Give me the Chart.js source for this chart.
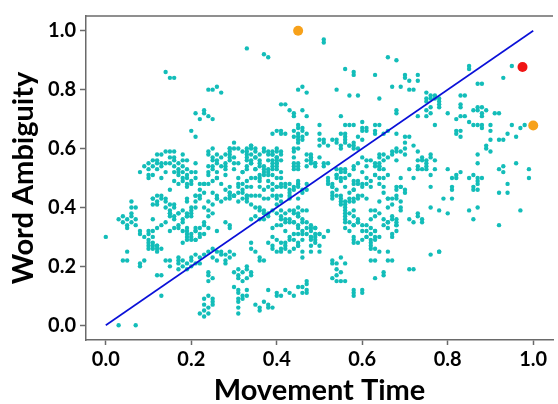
<!DOCTYPE html>
<html>
<head>
<meta charset="utf-8">
<script src="https://cdn.jsdelivr.net/npm/chart.js@4.4.0/dist/chart.umd.min.js"></script>
<style>
  html, body { margin: 0; padding: 0; background: #ffffff; }
  #wrap { width: 558px; height: 404px; }
</style>
</head>
<body>
<div id="wrap"><canvas id="scatter" width="558" height="404"></canvas></div>
<script>
/* ---------- axis labels / ticks ---------- */
const xTitle = "Movement Time";
const yTitle = "Word Ambiguity";
const xTicks = [0.0, 0.2, 0.4, 0.6, 0.8, 1.0];
const yTicks = [0.0, 0.2, 0.4, 0.6, 0.8, 1.0];

/* ---------- reference line (x = y) ---------- */
const fitLine = [[0, 0], [1, 1]];

/* ---------- highlighted points ---------- */
const redPoints = [[0.975, 0.877]];
const orangePoints = [[0.45, 1.0], [1.0, 0.678]];

/* ---------- movement time / word ambiguity pairs ---------- */
const tealPoints = [
  // far left
  [0.00,0.30],[0.03,0.00],[0.07,0.00],[0.13,0.10],[0.06,0.42],[0.06,0.40],
  [0.03,0.36],[0.04,0.37],[0.04,0.35],[0.05,0.36],[0.05,0.34],[0.06,0.37],[0.06,0.35],[0.07,0.36],[0.07,0.34],[0.05,0.33],
  [0.05,0.25],[0.04,0.22],[0.05,0.22],[0.08,0.20],[0.08,0.21],[0.09,0.22],
  [0.10,0.27],[0.11,0.27],[0.11,0.26],[0.12,0.27],[0.11,0.36],[0.11,0.43],[0.12,0.41],[0.12,0.17],[0.13,0.17],
  [0.08,0.32],[0.08,0.31],[0.09,0.30],[0.10,0.31],[0.11,0.32],[0.06,0.38],[0.07,0.40],
  [0.10,0.29],[0.11,0.28],[0.12,0.26],[0.13,0.26],[0.12,0.25],[0.10,0.26],
  [0.11,0.41],[0.12,0.44],[0.13,0.43],[0.14,0.42],[0.14,0.40],[0.15,0.39],[0.15,0.38],[0.16,0.36],[0.14,0.35],[0.13,0.34],
  [0.12,0.33],[0.10,0.32],[0.11,0.30],[0.10,0.28],[0.12,0.27],
  // upper left cluster
  [0.11,0.56],[0.12,0.58],[0.12,0.56],[0.11,0.54],[0.10,0.53],[0.11,0.51],[0.12,0.53],[0.13,0.54],[0.13,0.55],[0.14,0.52],
  [0.13,0.50],[0.15,0.59],[0.16,0.57],[0.16,0.56],[0.16,0.54],[0.17,0.53],[0.17,0.51],[0.16,0.49],[0.18,0.58],[0.19,0.56],
  [0.18,0.54],[0.19,0.51],[0.20,0.52],[0.21,0.50],[0.18,0.49],[0.24,0.59],[0.24,0.58],[0.25,0.56],[0.24,0.54],[0.25,0.54],
  [0.26,0.55],[0.27,0.54],[0.26,0.52],[0.26,0.50],[0.28,0.53],[0.28,0.51],[0.28,0.58],[0.29,0.56],[0.29,0.57],[0.30,0.55],
  [0.30,0.53],[0.31,0.55],[0.32,0.52],[0.33,0.58],[0.33,0.54],
  [0.09,0.54],[0.10,0.55],[0.10,0.50],[0.08,0.52],[0.14,0.59],[0.15,0.57],[0.15,0.55],[0.16,0.52],[0.17,0.55],[0.19,0.50],[0.20,0.49],[0.21,0.55],
  [0.12,0.55],[0.13,0.58],[0.14,0.55],[0.16,0.59],[0.18,0.56],[0.17,0.52],[0.18,0.52],[0.18,0.50],[0.19,0.48],[0.20,0.48],[0.21,0.52],[0.19,0.53],[0.10,0.51],
  [0.25,0.60],[0.25,0.57],[0.26,0.56],[0.26,0.58],[0.27,0.57],[0.28,0.55],[0.28,0.54],[0.29,0.58],[0.29,0.60],[0.29,0.59],
  [0.30,0.57],[0.31,0.60],[0.24,0.52],[0.24,0.51],[0.25,0.49],[0.25,0.53],[0.23,0.48],[0.26,0.50],
  [0.32,0.59],[0.33,0.56],[0.34,0.55],[0.35,0.53],[0.35,0.57],[0.36,0.58],[0.34,0.61],[0.35,0.60],[0.36,0.56],[0.37,0.54],
  [0.36,0.51],[0.35,0.50],[0.34,0.50],[0.33,0.49],[0.32,0.48],[0.31,0.47],[0.32,0.45],[0.33,0.44],[0.33,0.43],[0.30,0.44],
  [0.31,0.48],[0.31,0.50],[0.32,0.52],
  // upper left sparse
  [0.33,0.94],[0.14,0.86],[0.15,0.84],[0.16,0.84],[0.24,0.80],[0.25,0.80],[0.26,0.81],[0.27,0.79],[0.21,0.72],[0.22,0.70],
  [0.23,0.73],[0.23,0.72],[0.24,0.71],[0.25,0.70],[0.20,0.66],[0.21,0.64],[0.30,0.62],[0.29,0.60],[0.30,0.60],[0.33,0.59],
  // middle left
  [0.15,0.46],[0.17,0.48],[0.19,0.47],[0.22,0.48],[0.23,0.48],[0.24,0.48],[0.22,0.46],[0.21,0.44],[0.22,0.44],[0.23,0.45],
  [0.25,0.45],[0.27,0.48],[0.28,0.46],[0.29,0.47],[0.29,0.45],[0.30,0.44],[0.31,0.45],[0.32,0.46],[0.33,0.47],[0.33,0.44],
  [0.34,0.44],[0.26,0.43],[0.27,0.42],[0.29,0.43],
  [0.11,0.43],[0.12,0.42],[0.13,0.44],[0.14,0.43],[0.15,0.41],[0.16,0.41],[0.16,0.40],[0.15,0.38],[0.15,0.37],[0.16,0.37],
  [0.17,0.38],[0.18,0.36],[0.19,0.37],[0.19,0.38],[0.20,0.39],[0.20,0.38],[0.20,0.37],[0.21,0.40],
  [0.17,0.33],[0.18,0.32],[0.19,0.32],[0.20,0.31],[0.20,0.30],[0.21,0.33],[0.21,0.32],[0.22,0.31],[0.19,0.30],[0.20,0.29],
  [0.21,0.29],[0.22,0.30],[0.23,0.31],[0.19,0.29],[0.18,0.28],
  [0.15,0.32],[0.16,0.33],[0.17,0.34],[0.18,0.35],[0.19,0.37],[0.20,0.40],[0.21,0.42],[0.21,0.44],[0.22,0.43],[0.19,0.43],
  [0.19,0.42],[0.18,0.39],[0.17,0.38],[0.19,0.33],[0.19,0.31],[0.21,0.29],[0.21,0.32],[0.22,0.33],[0.23,0.34],[0.23,0.35],
  [0.24,0.37],[0.25,0.38],[0.24,0.39],[0.25,0.41],[0.26,0.43],[0.26,0.44],[0.28,0.43],[0.29,0.44],[0.29,0.45],[0.30,0.44],
  [0.31,0.42],[0.32,0.43],[0.23,0.40],[0.24,0.42],[0.28,0.35],[0.29,0.34],[0.29,0.33],[0.24,0.33],[0.26,0.32],
  // lower left
  [0.14,0.22],[0.15,0.22],[0.15,0.20],
  [0.17,0.22],[0.17,0.23],[0.18,0.22],[0.19,0.21],[0.20,0.22],[0.20,0.23],[0.21,0.24],[0.22,0.23],[0.17,0.21],[0.18,0.20],
  [0.19,0.19],[0.20,0.20],[0.21,0.21],[0.17,0.19],[0.22,0.21],
  [0.23,0.24],[0.24,0.25],[0.25,0.26],[0.26,0.25],[0.27,0.24],[0.27,0.25],[0.28,0.24],[0.29,0.23],[0.25,0.23],[0.26,0.22],
  [0.28,0.22],[0.28,0.21],[0.29,0.25],[0.30,0.24],
  [0.24,0.18],[0.24,0.17],[0.25,0.16],[0.24,0.15],
  [0.30,0.18],[0.31,0.19],[0.31,0.17],[0.32,0.18],[0.33,0.20],[0.31,0.16],[0.32,0.15],[0.33,0.16],
  [0.30,0.13],[0.31,0.11],[0.31,0.12],[0.32,0.10],[0.33,0.10],[0.31,0.09],[0.31,0.08],[0.32,0.09],[0.31,0.06],
  [0.23,0.09],[0.24,0.10],[0.25,0.09],[0.23,0.07],[0.24,0.06],[0.25,0.07],[0.22,0.04],[0.23,0.03],[0.24,0.04],[0.31,0.04],
  [0.23,0.05],[0.25,0.08],
  // middle
  [0.34,0.47],[0.36,0.47],[0.37,0.46],[0.38,0.47],[0.39,0.46],[0.40,0.47],[0.41,0.48],[0.42,0.47],[0.43,0.48],[0.44,0.46],
  [0.45,0.47],[0.43,0.45],[0.41,0.44],[0.40,0.44],[0.38,0.43],[0.37,0.43],[0.36,0.44],[0.35,0.44],
  [0.45,0.48],[0.46,0.46],[0.47,0.48],[0.47,0.46],
  [0.33,0.42],[0.34,0.41],[0.35,0.40],[0.36,0.40],[0.37,0.39],[0.36,0.39],[0.37,0.38],[0.38,0.38],[0.39,0.39],[0.35,0.37],
  [0.34,0.36],[0.36,0.36],[0.37,0.36],[0.38,0.37],
  [0.41,0.39],[0.42,0.38],[0.43,0.39],[0.44,0.38],[0.44,0.39],[0.45,0.40],[0.46,0.39],[0.45,0.37],[0.43,0.36],[0.42,0.35],
  [0.41,0.36],[0.44,0.35],[0.45,0.34],
  [0.46,0.35],[0.47,0.33],[0.48,0.32],[0.48,0.33],[0.49,0.31],[0.48,0.30],[0.49,0.30],[0.49,0.28],[0.48,0.29],[0.47,0.31],
  [0.49,0.33],[0.50,0.31],[0.47,0.39],
  [0.34,0.28],[0.34,0.26],[0.35,0.25],[0.36,0.23],[0.36,0.22],[0.37,0.22],
  [0.38,0.28],[0.39,0.27],[0.39,0.26],[0.40,0.25],[0.41,0.26],[0.41,0.25],[0.42,0.26],[0.42,0.28],[0.43,0.29],[0.44,0.31],
  [0.44,0.29],[0.45,0.28],[0.45,0.27],[0.44,0.26],[0.45,0.31],[0.46,0.31],
  [0.46,0.23],[0.46,0.25],[0.48,0.25],[0.50,0.25],
  [0.33,0.19],[0.34,0.18],[0.34,0.17],[0.33,0.12],
  [0.38,0.12],[0.40,0.11],[0.40,0.10],[0.41,0.10],[0.42,0.12],[0.43,0.11],[0.44,0.10],[0.45,0.13],[0.46,0.13],[0.47,0.14],
  [0.47,0.15],[0.46,0.11],[0.47,0.11],[0.47,0.12],
  [0.35,0.07],[0.36,0.06],[0.36,0.05],[0.37,0.08],[0.38,0.07],[0.39,0.06],[0.38,0.06],
  [0.40,0.38],[0.41,0.37],[0.42,0.36],[0.43,0.35],[0.44,0.35],[0.45,0.37],[0.45,0.38],[0.46,0.36],[0.47,0.35],[0.48,0.34],
  [0.49,0.33],[0.50,0.31],[0.51,0.30],[0.48,0.30],[0.49,0.29],[0.50,0.27],[0.48,0.27],[0.46,0.29],[0.46,0.32],[0.45,0.33],
  [0.43,0.30],[0.42,0.32],[0.41,0.34],[0.40,0.34],[0.39,0.33],[0.39,0.30],[0.40,0.29],[0.41,0.28],[0.42,0.27],[0.43,0.25],[0.45,0.27],
  // middle upper
  [0.41,0.66],[0.41,0.65],[0.39,0.65],[0.45,0.68],[0.46,0.66],[0.45,0.64],[0.45,0.63],[0.46,0.63],[0.46,0.64],[0.44,0.60],
  [0.40,0.66],[0.42,0.65],[0.44,0.66],[0.45,0.67],[0.46,0.67],[0.47,0.65],[0.45,0.65],[0.44,0.64],[0.45,0.62],[0.44,0.59],[0.45,0.60],
  [0.34,0.61],[0.33,0.60],[0.34,0.60],[0.35,0.59],[0.34,0.58],[0.35,0.57],[0.33,0.57],[0.34,0.56],[0.36,0.55],[0.34,0.55],
  [0.36,0.54],[0.35,0.53],[0.33,0.53],[0.37,0.52],
  [0.37,0.60],[0.37,0.59],[0.38,0.58],[0.39,0.58],[0.39,0.59],[0.40,0.57],[0.40,0.60],[0.40,0.59],[0.41,0.58],[0.39,0.56],
  [0.38,0.56],[0.39,0.55],[0.40,0.55],[0.40,0.56],
  [0.37,0.53],[0.38,0.53],[0.38,0.52],[0.39,0.53],[0.40,0.53],[0.37,0.51],[0.39,0.51],[0.36,0.50],[0.38,0.49],[0.36,0.49],
  [0.44,0.57],[0.44,0.55],[0.45,0.55],[0.44,0.54],[0.44,0.53],[0.45,0.53],[0.45,0.54],[0.47,0.58],[0.48,0.57],[0.48,0.56],
  [0.49,0.55],[0.49,0.54],
  [0.38,0.59],[0.39,0.58],[0.40,0.57],[0.41,0.59],[0.40,0.55],[0.39,0.54],[0.40,0.54],[0.41,0.56],[0.38,0.51],[0.40,0.50],
  [0.41,0.50],[0.41,0.52],[0.39,0.48],[0.40,0.47],[0.41,0.47],[0.42,0.48],[0.43,0.46],[0.44,0.47],[0.45,0.48],[0.45,0.49],
  [0.43,0.44],[0.45,0.43],[0.46,0.45],[0.39,0.44],[0.40,0.43],[0.41,0.42],[0.43,0.43],[0.40,0.41],
  [0.48,0.58],[0.48,0.57],[0.49,0.55],[0.47,0.56],[0.48,0.55],[0.47,0.54],[0.50,0.57],[0.51,0.55],[0.51,0.54],
  // top middle sparse
  [0.37,0.92],[0.38,0.91],[0.51,0.97],[0.51,0.96],[0.66,0.91],[0.68,0.90],[0.56,0.87],[0.58,0.86],[0.58,0.85],[0.63,0.85],
  [0.67,0.81],[0.45,0.80],[0.46,0.81],[0.47,0.79],[0.54,0.80],[0.57,0.78],[0.59,0.78],[0.64,0.77],[0.41,0.75],[0.42,0.75],
  [0.43,0.73],[0.44,0.72],[0.44,0.71],[0.46,0.73],[0.47,0.71],[0.55,0.71],[0.68,0.73],[0.68,0.72],
  // middle right upper
  [0.50,0.65],[0.50,0.63],[0.51,0.62],[0.50,0.61],
  [0.56,0.68],[0.57,0.68],[0.58,0.68],[0.60,0.69],[0.60,0.67],[0.61,0.66],[0.64,0.68],[0.63,0.66],[0.55,0.65],[0.56,0.64],
  [0.53,0.63],[0.54,0.62],[0.55,0.61],[0.56,0.62],[0.57,0.61],[0.58,0.61],[0.60,0.63],[0.59,0.60],[0.58,0.60],[0.65,0.65],[0.66,0.66],
  [0.52,0.55],[0.54,0.53],[0.55,0.52],[0.56,0.52],[0.56,0.53],[0.58,0.54],[0.59,0.55],[0.60,0.57],[0.58,0.53],[0.57,0.51],
  [0.56,0.50],[0.55,0.50],[0.54,0.51],[0.55,0.49],[0.58,0.49],
  [0.61,0.56],[0.62,0.56],[0.63,0.55],[0.64,0.53],[0.64,0.54],[0.65,0.56],[0.64,0.57],[0.63,0.51],[0.64,0.50],[0.64,0.58],
  [0.50,0.68],[0.51,0.63],[0.52,0.61],[0.54,0.63],[0.55,0.60],[0.56,0.65],[0.56,0.63],[0.57,0.61],[0.59,0.64],[0.60,0.66],
  [0.61,0.67],[0.63,0.68],[0.63,0.65],[0.58,0.62],
  [0.52,0.50],[0.52,0.49],[0.53,0.48],[0.53,0.47],[0.54,0.50],[0.54,0.51],[0.55,0.53],
  [0.59,0.48],[0.59,0.49],[0.60,0.47],[0.61,0.48],[0.61,0.50],[0.62,0.49],[0.63,0.51],[0.64,0.54],[0.63,0.54],[0.61,0.54],[0.60,0.52],
  [0.65,0.58],[0.66,0.57],[0.67,0.59],[0.67,0.58],[0.68,0.56],[0.68,0.59],[0.64,0.55],[0.65,0.53],[0.66,0.51],[0.65,0.50],
  [0.64,0.48],[0.65,0.47],
  [0.52,0.48],[0.53,0.47],[0.54,0.46],[0.56,0.47],[0.58,0.48],[0.58,0.46],[0.60,0.48],[0.62,0.47],
  // middle right lower
  [0.53,0.44],[0.55,0.43],[0.55,0.44],[0.56,0.42],[0.57,0.43],[0.58,0.42],[0.59,0.43],[0.60,0.44],[0.61,0.43],[0.66,0.43],
  [0.67,0.43],[0.64,0.42],
  [0.53,0.45],[0.54,0.44],[0.53,0.43],[0.55,0.42],[0.55,0.41],[0.56,0.39],[0.56,0.40],[0.57,0.42],[0.58,0.43],[0.57,0.45],
  [0.58,0.46],[0.59,0.44],
  [0.56,0.41],[0.57,0.38],[0.58,0.39],[0.58,0.37],[0.59,0.36],[0.56,0.37],[0.57,0.35],[0.58,0.34],[0.59,0.35],
  [0.60,0.34],[0.61,0.32],[0.62,0.31],[0.62,0.33],[0.63,0.32],[0.63,0.30],[0.62,0.29],[0.61,0.30],
  [0.63,0.39],[0.64,0.38],[0.65,0.36],[0.66,0.35],[0.67,0.36],[0.68,0.32],[0.68,0.34],[0.67,0.30],[0.66,0.40],[0.63,0.37],
  [0.58,0.29],[0.59,0.28],[0.62,0.26],[0.63,0.22],[0.62,0.22],[0.64,0.25],[0.66,0.25],[0.66,0.22],[0.67,0.22],
  [0.52,0.32],
  [0.53,0.22],[0.53,0.21],[0.54,0.21],[0.55,0.23],[0.56,0.21],[0.54,0.19],[0.54,0.17],[0.53,0.16],[0.55,0.18],[0.54,0.15],
  [0.55,0.15],[0.56,0.15],
  [0.58,0.12],[0.58,0.11],[0.60,0.12],[0.60,0.11],[0.58,0.10],
  [0.63,0.16],[0.65,0.18],[0.65,0.17],
  [0.65,0.45],[0.66,0.43],[0.67,0.41],[0.68,0.43],[0.68,0.44],[0.69,0.47],[0.68,0.47],[0.67,0.37],[0.66,0.35],[0.65,0.34],
  [0.63,0.32],[0.64,0.30],[0.66,0.33],[0.67,0.31],[0.68,0.34],[0.68,0.36],[0.69,0.39],
  [0.56,0.38],[0.56,0.36],[0.56,0.35],[0.56,0.33],[0.57,0.32],[0.58,0.34],[0.59,0.35],[0.58,0.30],[0.58,0.28],[0.60,0.29],
  [0.60,0.32],[0.61,0.34],[0.62,0.36],[0.62,0.39],[0.61,0.30],[0.62,0.28],[0.63,0.26],[0.62,0.27],[0.63,0.29],
  // right
  [0.85,0.87],[0.85,0.88],[0.95,0.88],[0.93,0.84],[0.70,0.85],[0.70,0.84],[0.71,0.83],[0.73,0.85],[0.73,0.83],[0.69,0.81],
  [0.71,0.80],[0.72,0.80],[0.87,0.82],[0.88,0.82],
  [0.75,0.79],[0.75,0.77],[0.76,0.77],[0.76,0.78],[0.77,0.77],[0.77,0.78],[0.78,0.77],[0.78,0.76],[0.78,0.75],[0.78,0.74],
  [0.75,0.76],[0.76,0.74],[0.75,0.73],
  [0.83,0.78],[0.84,0.78],[0.83,0.75],[0.83,0.74],[0.80,0.72],[0.75,0.71],[0.76,0.72],[0.77,0.68],[0.73,0.71],
  [0.82,0.70],[0.83,0.71],[0.84,0.71],[0.85,0.69],[0.86,0.68],[0.87,0.68],[0.88,0.68],[0.88,0.67],[0.88,0.71],[0.88,0.72],
  [0.87,0.74],[0.88,0.74],[0.89,0.73],[0.87,0.73],[0.86,0.73],
  [0.91,0.72],[0.92,0.72],[0.90,0.68],[0.90,0.66],[0.95,0.68],[0.98,0.68],[0.97,0.67],[0.94,0.65],[0.93,0.63],[0.92,0.63],[0.96,0.64],
  [0.82,0.66],[0.82,0.65],[0.83,0.66],[0.83,0.64],
  [0.68,0.65],[0.70,0.64],[0.71,0.64],[0.72,0.61],[0.70,0.62],[0.70,0.60],[0.69,0.59],[0.68,0.60],[0.70,0.58],
  [0.89,0.61],[0.89,0.60],[0.90,0.63],[0.90,0.59],
  [0.73,0.59],[0.74,0.57],[0.73,0.56],[0.74,0.56],[0.75,0.56],[0.75,0.55],[0.76,0.57],[0.76,0.58],[0.77,0.56],[0.75,0.54],
  [0.73,0.54],[0.73,0.53],[0.74,0.53],[0.75,0.53],[0.77,0.53],[0.76,0.51],[0.71,0.53],[0.69,0.50],[0.72,0.50],
  [0.87,0.58],[0.87,0.55],[0.86,0.51],[0.87,0.50],[0.88,0.50],
  [0.80,0.53],[0.81,0.50],[0.82,0.50],[0.82,0.51],[0.83,0.52],
  [0.92,0.53],[0.93,0.54],[0.93,0.52],[0.94,0.48],[0.96,0.55],[0.99,0.53],[0.99,0.50],
  [0.85,0.50],[0.86,0.47],[0.86,0.46],[0.87,0.48],[0.87,0.49],[0.87,0.46],
  [0.92,0.45],[0.94,0.45],[0.81,0.47],[0.79,0.43],[0.81,0.43],[0.78,0.39],[0.80,0.38],[0.85,0.39],[0.86,0.36],[0.87,0.40],
  [0.97,0.39],[0.92,0.34],[0.78,0.25],
  [0.69,0.47],[0.70,0.46],[0.70,0.45],[0.68,0.46],[0.69,0.42],[0.69,0.40],[0.68,0.35],[0.76,0.47],[0.81,0.46],[0.76,0.40],
  [0.71,0.36],[0.72,0.35],[0.73,0.37],[0.73,0.38],[0.74,0.36],[0.74,0.35],[0.76,0.24],[0.78,0.25],[0.71,0.19],[0.72,0.19]
];

/* ---------- colours / fonts ---------- */
const tealColor = "#13bdb9";
const lineColor = "#0a10d8";
const spineColor = "#6a6a6a";
const textColor = "#000000";
const fontFamily = "Lato, 'Open Sans', sans-serif";

const toXY = (arr) => arr.map((p) => ({ x: p[0], y: p[1] }));

// top frame line (the matplotlib box top)
const topSpine = {
  id: "topSpine",
  afterDraw(chart) {
    const { ctx, chartArea } = chart;
    ctx.save();
    ctx.strokeStyle = spineColor;
    ctx.lineWidth = 1.5;
    ctx.beginPath();
    ctx.moveTo(chartArea.left, chartArea.top);
    ctx.lineTo(chartArea.right, chartArea.top);
    ctx.stroke();
    ctx.restore();
  },
};

const chart = new Chart(document.getElementById("scatter"), {
  type: "scatter",
  plugins: [topSpine],
  data: {
    datasets: [
      {
        label: "fit",
        data: toXY(fitLine),
        showLine: true,
        borderColor: lineColor,
        borderWidth: 1.6,
        pointRadius: 0,
        fill: false,
      },
      {
        label: "red",
        data: toXY(redPoints),
        backgroundColor: "#f01414",
        borderWidth: 0,
        pointRadius: 5,
      },
      {
        label: "orange",
        data: toXY(orangePoints),
        backgroundColor: "#f7a11a",
        borderWidth: 0,
        pointRadius: 5,
      },
      {
        label: "words",
        data: toXY(tealPoints),
        backgroundColor: tealColor,
        borderWidth: 0,
        pointRadius: 2.2,
      },
    ],
  },
  options: {
    responsive: false,
    animation: false,
    layout: { padding: { top: 9, right: 0, bottom: 0, left: 0 } },
    plugins: {
      legend: { display: false },
      tooltip: { enabled: false },
    },
    scales: {
      x: {
        type: "linear",
        min: -0.0463,
        max: 1.0463,
        afterBuildTicks: (axis) => { axis.ticks = xTicks.map((v) => ({ value: v })); },
        afterFit: (axis) => { axis.height = 64; },
        grid: { drawOnChartArea: false, drawTicks: true, tickLength: 5, tickColor: spineColor, tickWidth: 1.5 },
        border: { display: true, color: spineColor, width: 1.5 },
        ticks: {
          color: textColor,
          padding: 3,
          maxRotation: 0,
          font: { family: fontFamily, size: 20, weight: "bold" },
          callback: (v) => v.toFixed(1),
        },
        title: {
          display: true,
          text: xTitle,
          color: textColor,
          font: { family: fontFamily, size: 29, weight: "bold", lineHeight: 0.9 },
          padding: { top: 0, bottom: 0 },
        },
      },
      y: {
        type: "linear",
        min: -0.05,
        max: 1.05,
        afterBuildTicks: (axis) => { axis.ticks = yTicks.map((v) => ({ value: v })); },
        afterFit: (axis) => { axis.width = 86; },
        grid: { drawOnChartArea: false, drawTicks: true, tickLength: 6, tickColor: spineColor, tickWidth: 1.5 },
        border: { display: true, color: spineColor, width: 1.5 },
        ticks: {
          color: textColor,
          padding: 4,
          font: { family: fontFamily, size: 20, weight: "bold" },
          callback: (v) => v.toFixed(1),
        },
        title: {
          display: true,
          text: yTitle,
          color: textColor,
          font: { family: fontFamily, size: 29, weight: "bold", lineHeight: 1 },
          padding: { top: 9, bottom: 0 },
        },
      },
    },
  },
});
</script>
</body>
</html>
